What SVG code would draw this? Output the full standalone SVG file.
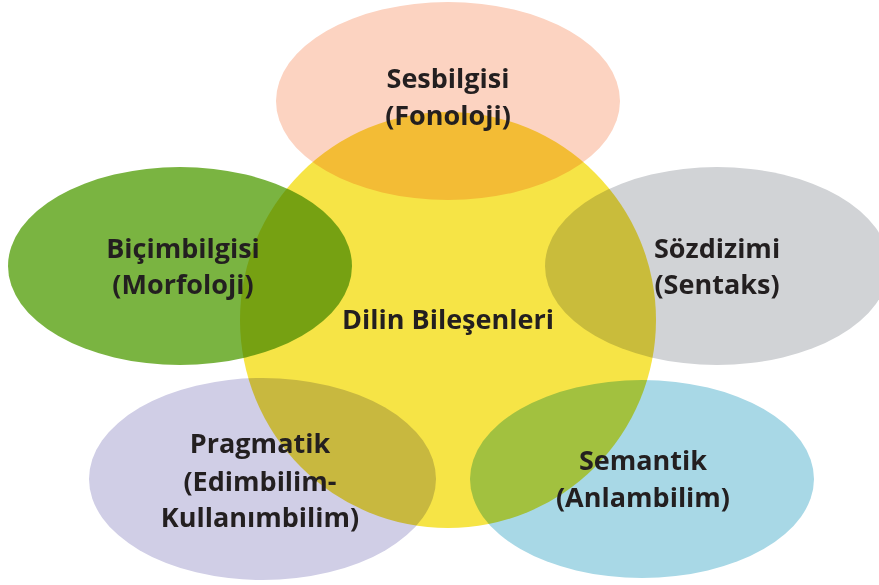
<svg xmlns="http://www.w3.org/2000/svg" width="879" height="585" viewBox="0 0 879 585">
<style>
.e{mix-blend-mode:multiply}
.t{font-family:"Open Sans","Liberation Sans",sans-serif;font-weight:700;font-size:27px;fill:#231f20;text-anchor:middle}
</style>
<rect width="879" height="585" fill="#ffffff"/>
<g id="center-circle"><circle cx="448" cy="320" r="208" fill="#f6e446"/></g>
<g id="sesbilgisi"><ellipse class="e" cx="448" cy="101" rx="172" ry="99" fill="#fcd3c1"/></g>
<g id="bicimbilgisi"><ellipse class="e" cx="180" cy="266" rx="172" ry="99" fill="#7ab441"/></g>
<g id="sozdizimi"><ellipse class="e" cx="717" cy="266" rx="172" ry="99" fill="#d1d3d6"/></g>
<g id="pragmatik"><ellipse class="e" cx="262.5" cy="479" rx="173.5" ry="101" fill="#d0cee6"/></g>
<g id="semantik"><ellipse class="e" cx="642" cy="479" rx="172" ry="99" fill="#a8d8e6"/></g>
<g id="labels">
<text class="t" x="448" y="88">Sesbilgisi</text>
<text class="t" x="448" y="125">(Fonoloji)</text>
<text class="t" x="183" y="258">Biçimbilgisi</text>
<text class="t" x="183" y="294">(Morfoloji)</text>
<text class="t" x="717" y="258">Sözdizimi</text>
<text class="t" x="717" y="294">(Sentaks)</text>
<text class="t" x="448" y="329">Dilin Bileşenleri</text>
<text class="t" x="260" y="453">Pragmatik</text>
<text class="t" x="260" y="491">(Edimbilim-</text>
<text class="t" x="260" y="527">Kullanımbilim)</text>
<text class="t" x="643" y="470">Semantik</text>
<text class="t" x="643" y="507">(Anlambilim)</text>
</g>
</svg>
